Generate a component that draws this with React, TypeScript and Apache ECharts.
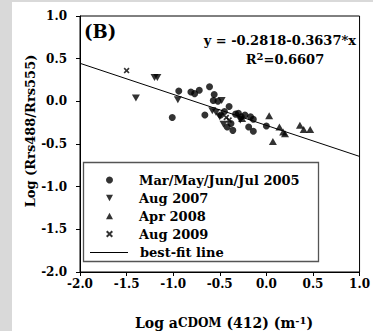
import React, { useEffect, useRef } from "react";
import * as echarts from "echarts";

const xTicks = [-2.0, -1.5, -1.0, -0.5, 0.0, 0.5, 1.0];
const yTicks = [1.0, 0.5, 0.0, -0.5, -1.0, -1.5, -2.0];

const seriesNames = ["Mar/May/Jun/Jul 2005", "Aug 2007", "Apr 2008", "Aug 2009", "best-fit line"];

const mar2005 = [
  [-1.01, -0.19], [-0.94, 0.12], [-0.81, 0.11], [-0.77, 0.09], [-0.72, 0.13],
  [-0.61, 0.17], [-0.66, -0.16], [-0.57, 0.01], [-0.56, 0.08], [-0.52, 0.0],
  [-0.40, -0.06], [-0.30, -0.14], [-0.23, -0.16], [-0.17, -0.18], [-0.14, -0.21],
  [-0.42, -0.30], [-0.36, -0.34], [-0.19, -0.30], [-0.14, -0.35], [0.0, -0.29],
  [-0.38, -0.26], [-0.33, -0.15], [-0.27, -0.18], [-0.45, -0.12], [-0.49, -0.16],
];
const aug2007 = [
  [-1.40, 0.04], [-1.20, 0.28], [-1.17, 0.28], [-0.95, 0.02], [-0.48, 0.01],
  [-0.54, -0.13], [-0.50, -0.18], [-0.46, -0.27], [-0.28, -0.22], [-0.58, -0.11],
];
const apr2008 = [
  [0.03, -0.17], [0.07, -0.47], [0.14, -0.30], [0.18, -0.36], [0.20, -0.38],
  [0.36, -0.28], [0.40, -0.33], [0.47, -0.33], [-0.26, -0.20],
];
const aug2009 = [[-1.50, 0.36], [-0.40, -0.22], [-0.43, -0.19]];
const fitLine = [[-2.0, 0.4456], [1.0, -0.6455]];

const equationText = "y = -0.2818-0.3637*x";
const r2Label = "0.6607";
const panelLabel = "(B)";

const FONT = "DejaVu Serif";
const CROSS = "path://M0,2L2,0L5,3L8,0L10,2L7,5L10,8L8,10L5,7L2,10L0,8L3,5Z";
const TRI_DOWN = "path://M0,0L10,0L5,9Z";
const TRI_UP = "path://M5,0L10,9L0,9Z";

export default function App() {
  const ref = useRef<HTMLDivElement>(null);
  useEffect(() => {
    if (!ref.current) return;
    const chart = echarts.init(ref.current, null, { renderer: "svg" });
    const tickRich = { t: { fontFamily: FONT, fontWeight: "bold", fontSize: 12, color: "#000" } };
    const fmt = (v: number) => "{t|" + v.toFixed(1) + "}";
    const legendText = { fontFamily: FONT, fontWeight: "bold", fontSize: 13, color: "#000", lineHeight: 18 };
    const option: any = {
      animation: false,
      backgroundColor: "#fff",
      grid: { left: 80, right: 5, top: 16, bottom: 59, show: true, borderColor: "#000", borderWidth: 1 },
      xAxis: {
        type: "value", min: xTicks[0], max: xTicks[xTicks.length - 1], interval: 0.5,
        axisLine: { onZero: false, lineStyle: { color: "#000", width: 1 } },
        axisTick: { show: true, inside: false, length: 4, lineStyle: { color: "#000" } },
        splitLine: { show: false },
        axisLabel: { fontFamily: FONT, fontWeight: "bold", fontSize: 12, color: "#000", margin: 6, formatter: fmt, rich: tickRich, showMaxLabel: true },
      },
      yAxis: {
        type: "value", min: yTicks[yTicks.length - 1], max: yTicks[0], interval: 0.5,
        axisLine: { onZero: false, lineStyle: { color: "#000", width: 1 } },
        axisTick: { show: true, inside: false, length: 4, lineStyle: { color: "#000" } },
        splitLine: { show: false },
        axisLabel: { fontFamily: FONT, fontWeight: "bold", fontSize: 12, color: "#000", margin: 13, formatter: fmt, rich: tickRich },
      },
      legend: [
        {
          orient: "vertical", left: 106, top: 171, padding: 0, itemWidth: 7, itemHeight: 7, itemGap: 0,
          selectedMode: false, symbolKeepAspect: true,
          data: [
            { name: seriesNames[0], icon: "circle" },
            { name: seriesNames[1], icon: TRI_DOWN },
            { name: seriesNames[2], icon: TRI_UP },
            { name: seriesNames[3], icon: CROSS },
          ],
          textStyle: { ...legendText, padding: [0, 0, 0, 21] },
        },
        {
          orient: "vertical", left: 90, top: 243.5, padding: 0, itemWidth: 38, itemHeight: 1, itemGap: 0,
          selectedMode: false, icon: "rect",
          data: [seriesNames[4]],
          textStyle: { ...legendText, padding: [0, 0, 0, 7] },
        },
      ],
      series: [
        {
          name: seriesNames[4], type: "line", data: fitLine, symbol: "none", z: 1,
          lineStyle: { color: "#000", width: 1 }, itemStyle: { color: "#000" },
        },
        {
          name: seriesNames[0], type: "scatter", data: mar2005, symbol: "circle", symbolSize: 7, z: 3,
          itemStyle: { color: "#000" },
        },
        {
          name: seriesNames[1], type: "scatter", data: aug2007, symbol: TRI_DOWN,
          symbolSize: [8, 7], z: 3, itemStyle: { color: "#000" },
        },
        {
          name: seriesNames[2], type: "scatter", data: apr2008, symbol: TRI_UP,
          symbolSize: [8, 7], z: 3, itemStyle: { color: "#000" },
        },
        {
          name: seriesNames[3], type: "scatter", data: aug2009, symbol: CROSS, symbolSize: 6, z: 4,
          itemStyle: { color: "#000" },
        },
      ],
      graphic: [
        { type: "rect", left: 0, top: 0, z: 100, shape: { width: 12, height: 331 }, style: { fill: "#d9d9d9" }, silent: true },
        { type: "rect", left: 0, top: 0, z: 100, shape: { width: 373, height: 2 }, style: { fill: "#d9d9d9" }, silent: true },
        {
          type: "rect", z: 50, shape: { x: 83.5, y: 162.5, width: 235, height: 99 },
          style: { fill: "none", stroke: "#555", lineWidth: 1.3 }, silent: true,
        },
        {
          type: "text", x: 84, y: 31, z: 60,
          style: { text: panelLabel, fontFamily: FONT, fontWeight: "bold", fontSize: 18, fill: "#000", textAlign: "left", textVerticalAlign: "middle" },
        },
        {
          type: "text", x: 356, y: 40, z: 60,
          style: { text: equationText, fontFamily: FONT, fontWeight: "bold", fontSize: 13, fill: "#000", textAlign: "right", textVerticalAlign: "middle" },
        },
        {
          type: "text", x: 285, y: 59, z: 60,
          style: {
            text: "{a|R}{s|2}{a|=" + r2Label + "}",
            textAlign: "center", textVerticalAlign: "middle",
            rich: {
              a: { fontFamily: FONT, fontWeight: "bold", fontSize: 13, fill: "#000", lineHeight: 16 },
              s: { fontFamily: FONT, fontWeight: "bold", fontSize: 10, fill: "#000", lineHeight: 10, verticalAlign: "top" },
            },
          },
        },
        {
          type: "text", x: 224, y: 323, z: 60,
          style: {
            text: "{a|Log a}{b|CDOM}{a| (412) (m}{s|-1}{a|)}",
            textAlign: "center", textVerticalAlign: "middle",
            rich: {
              a: { fontFamily: FONT, fontWeight: "bold", fontSize: 14, fill: "#000", lineHeight: 15 },
              b: { fontFamily: FONT, fontWeight: "bold", fontSize: 12, fill: "#000", lineHeight: 15 },
              s: { fontFamily: FONT, fontWeight: "bold", fontSize: 10, fill: "#000", lineHeight: 9, verticalAlign: "top" },
            },
          },
        },
        {
          type: "text", x: 30, y: 131, rotation: Math.PI / 2, z: 60,
          style: { text: "Log (Rrs488/Rrs555)", fontFamily: FONT, fontWeight: "bold", fontSize: 13, fill: "#000", textAlign: "center", textVerticalAlign: "middle" },
        },
      ],
    };
    chart.setOption(option);
    return () => chart.dispose();
  }, []);
  return <div ref={ref} style={{ position: "fixed", left: 0, top: 0, width: 373, height: 331 }} />;
}
